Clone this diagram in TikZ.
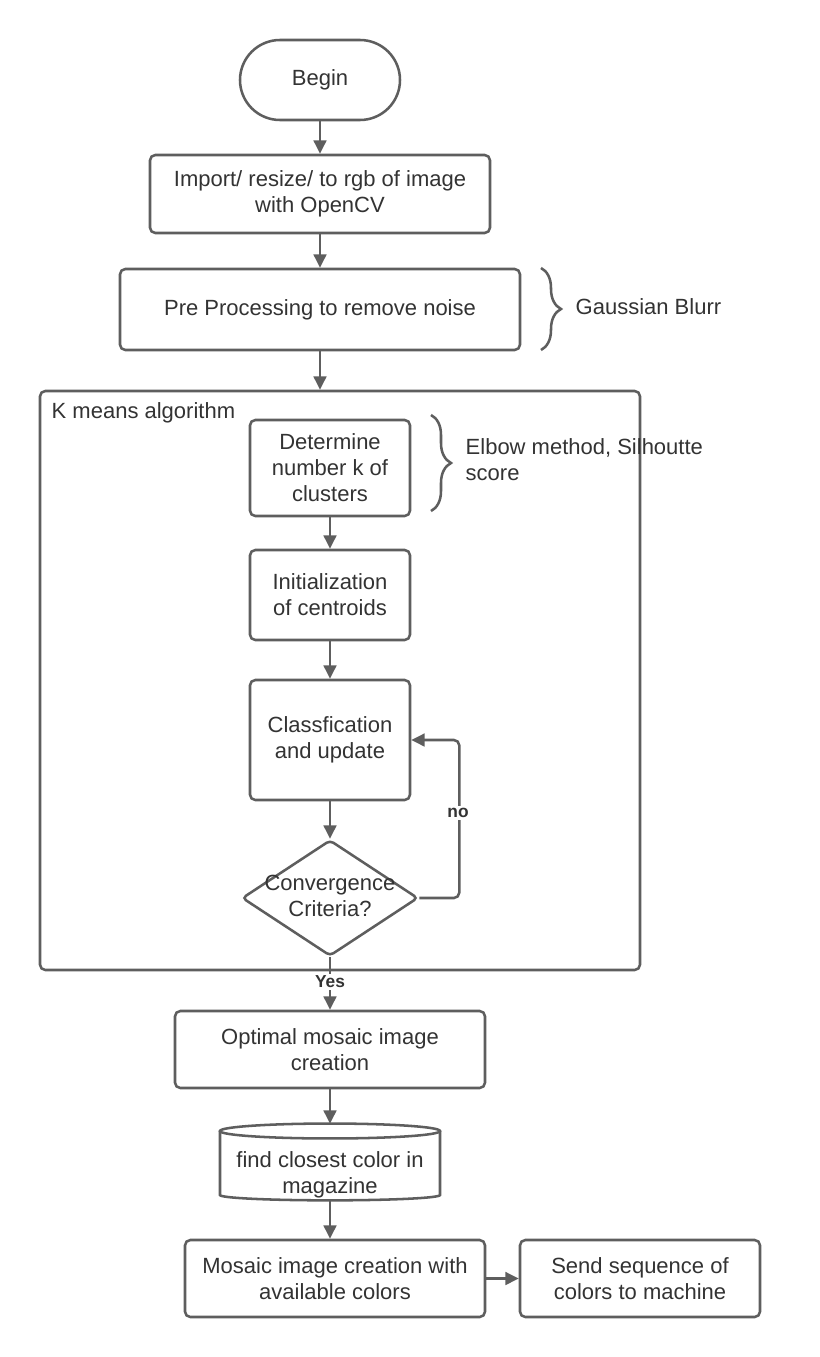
\documentclass[tikz,border=0pt]{standalone}
\usepackage{fontspec}
\setmainfont{Liberation Sans}
\usetikzlibrary{arrows.meta,shapes.geometric,decorations.pathreplacing,calc}
\definecolor{ln}{HTML}{5E5E5E}
\definecolor{tx}{HTML}{333333}
\begin{document}
\begin{tikzpicture}[x=0.75pt,y=-0.75pt,
  every node/.style={font=\fontsize{16.5}{19.5}\selectfont, text=tx},
  box/.style={draw=ln, line width=1.9pt, rounded corners=4pt, align=center, inner sep=0pt, fill=white},
  arr/.style={draw=ln, line width=1.9pt, -{Triangle[width=9.5pt,length=10pt]}},
  brc/.style={draw=ln, line width=1.9pt, decorate, decoration={brace, amplitude=15pt}},
  lbl/.style={font=\fontsize{13}{15}\selectfont\bfseries, fill=white, inner sep=1.5pt}
]
\useasboundingbox[fill=white] (0,0) rectangle (820,1357);

% K means frame
\node[draw=ln, line width=1.9pt, rounded corners=4pt, minimum width=450pt, minimum height=434.25pt, inner sep=0pt] (kframe) at (340,680.5) {};
\node[anchor=west] (klbl) at (47,413) {K means algorithm};

\node[box, rounded corners=30pt, minimum width=120pt, minimum height=60pt] (begin) at (320,80) {Begin};
\node[box, minimum width=255pt, minimum height=58.5pt] (imp) at (320,194) {Import/ resize/ to rgb of image\\with OpenCV};
\node[box, minimum width=300pt, minimum height=60.75pt] (pre) at (320,309.5) {Pre Processing to remove noise};
\node[anchor=west] (gauss) at (571,307) {Gaussian Blurr};

\node[box, minimum width=120pt, minimum height=72pt] (det) at (330,468) {Determine\\number k of\\clusters};
\node[anchor=west, align=left] (elbow) at (461,460) {Elbow method, Silhoutte\\score};

\node[box, minimum width=120pt, minimum height=67.5pt] (init) at (330,595) {Initialization\\of centroids};
\node[box, minimum width=120pt, minimum height=90pt] (cls) at (330,740) {Classfication\\and update};

\node[diamond, draw=ln, line width=1.9pt, rounded corners=3pt, minimum width=132pt, minimum height=87pt, inner sep=0pt, fill=white] (dia) at (330,898) {};
\node[align=center] (diatext) at (330,896) {Convergence\\Criteria?};

\node[box, minimum width=232.5pt, minimum height=57.75pt] (opt) at (330,1049.5) {Optimal mosaic image\\creation};

% cylinder
\draw[draw=ln, line width=1.9pt, fill=white] (220,1131) -- (220,1195) arc[start angle=180, end angle=360, x radius=82.5pt, y radius=4pt] -- (440,1131);
\draw[draw=ln, line width=1.9pt, fill=white] (330,1131) ellipse[x radius=82.5pt, y radius=5.6pt];
\node[inner sep=0pt, minimum width=165pt, minimum height=57pt] (cyl) at (330,1162) {};
\node[align=center] (cyltext) at (330,1175) {find closest color in\\magazine};

\node[box, minimum width=225pt, minimum height=57.75pt] (mos) at (335,1278.5) {Mosaic image creation with\\available colors};
\node[box, minimum width=180pt, minimum height=57.75pt] (send) at (640,1278.5) {Send sequence of\\colors to machine};

% braces
\draw[brc] (541,268) -- (541,350);
\draw[brc] (431,415) -- (431,511);

% connectors
\draw[arr] (begin.south) -- (imp.north);
\draw[arr] (imp.south) -- (imp.south |- pre.north);
\draw[arr] (pre.south) -- (pre.south |- kframe.north);
\draw[arr] (det.south) -- (init.north);
\draw[arr] (init.south) -- (cls.north);
\draw[arr] (cls.south) -- (dia.north);
\draw[arr, rounded corners=4pt] (dia.east) -- ++(40,0) coordinate (nocorner) |- (cls.east);
\node[lbl] (nolbl) at (458,813) {no};
\draw[arr] (dia.south) -- (opt.north);
\node[lbl] (yeslbl) at (330,982) {Yes};
\draw[arr] (opt.south) -- (opt.south |- cyl.north);
\draw[arr] (cyl.south) -- (cyl.south |- mos.north);
\draw[arr] (mos.east) -- (send.west);
\end{tikzpicture}
\end{document}
